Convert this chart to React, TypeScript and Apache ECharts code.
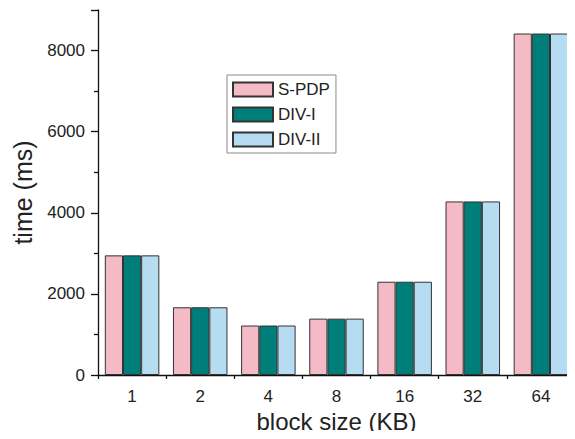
import React, { useEffect, useRef } from "react";
import * as echarts from "echarts";

const categories = ["1", "2", "4", "8", "16", "32", "64"];
const spdp = [2950, 1670, 1220, 1390, 2300, 4280, 8420];
const div1 = [2950, 1670, 1220, 1390, 2300, 4280, 8420];
const div2 = [2950, 1670, 1220, 1390, 2300, 4280, 8420];
const seriesNames = ["S-PDP", "DIV-I", "DIV-II"];
const colors = ["#F4BAC6", "#007E7A", "#B6DCF1"];

const FONT = "Liberation Sans, Arial, sans-serif";

export default function App() {
  const ref = useRef<HTMLDivElement>(null);
  useEffect(() => {
    if (!ref.current) return;
    const chart = echarts.init(ref.current, undefined, { renderer: "svg" });
    const values = [spdp, div1, div2];
    chart.setOption({
      animation: false,
      backgroundColor: "#ffffff",
      textStyle: { fontFamily: FONT },
      grid: { left: 98, top: 10, bottom: 64, width: 483 },
      legend: {
        orient: "vertical",
        left: 227,
        top: 75,
        icon: "rect",
        itemWidth: 40,
        itemHeight: 14,
        itemGap: 8,
        padding: [6, 6, 5, 5],
        borderColor: "#8a8a8a",
        borderWidth: 1,
        data: seriesNames,
        textStyle: { fontSize: 17, color: "#222", fontFamily: FONT },
      },
      xAxis: [
        {
          type: "category",
          data: categories,
          position: "bottom",
          axisLine: { lineStyle: { color: "#111", width: 1.3 } },
          axisTick: { alignWithLabel: true, length: 7, lineStyle: { color: "#111", width: 1.3 } },
          axisLabel: { fontSize: 17, color: "#222", margin: 13, fontFamily: FONT },
          name: "block size (KB)",
          nameLocation: "middle",
          nameGap: 30,
          nameTextStyle: { fontSize: 24, color: "#222", fontFamily: FONT },
        },
        {
          type: "category",
          data: categories,
          position: "bottom",
          axisLine: { show: false },
          axisTick: { show: true, length: 4, lineStyle: { color: "#111", width: 1.3 } },
          axisLabel: { show: false },
        },
      ],
      yAxis: {
        type: "value",
        min: 0,
        max: 9000,
        interval: 2000,
        splitLine: { show: false },
        axisLine: { show: true, lineStyle: { color: "#111", width: 1.3 } },
        axisTick: { show: true, length: 7, lineStyle: { color: "#111", width: 1.3 } },
        minorTick: { show: true, splitNumber: 2, length: 4, lineStyle: { color: "#111", width: 1.3 } },
        axisLabel: {
          fontSize: 17,
          color: "#222",
          margin: 13,
          fontFamily: FONT,
          showMaxLabel: false,
          formatter: (v: number) => (v % 2000 === 0 ? String(v) : ""),
        },
        name: "time (ms)",
        nameLocation: "middle",
        nameGap: 63,
        nameTextStyle: { fontSize: 25, color: "#222", fontFamily: FONT },
      },
      series: seriesNames.map((n, i) => ({
        name: n,
        type: "bar",
        xAxisIndex: 0,
        data: values[i],
        barGap: "0%",
        barCategoryGap: "20%",
        itemStyle: { color: colors[i], borderColor: "#333", borderWidth: 1 },
      })),
    });
    return () => chart.dispose();
  }, []);
  return <div ref={ref} style={{ width: 575, height: 439, margin: -8 }} />;
}
